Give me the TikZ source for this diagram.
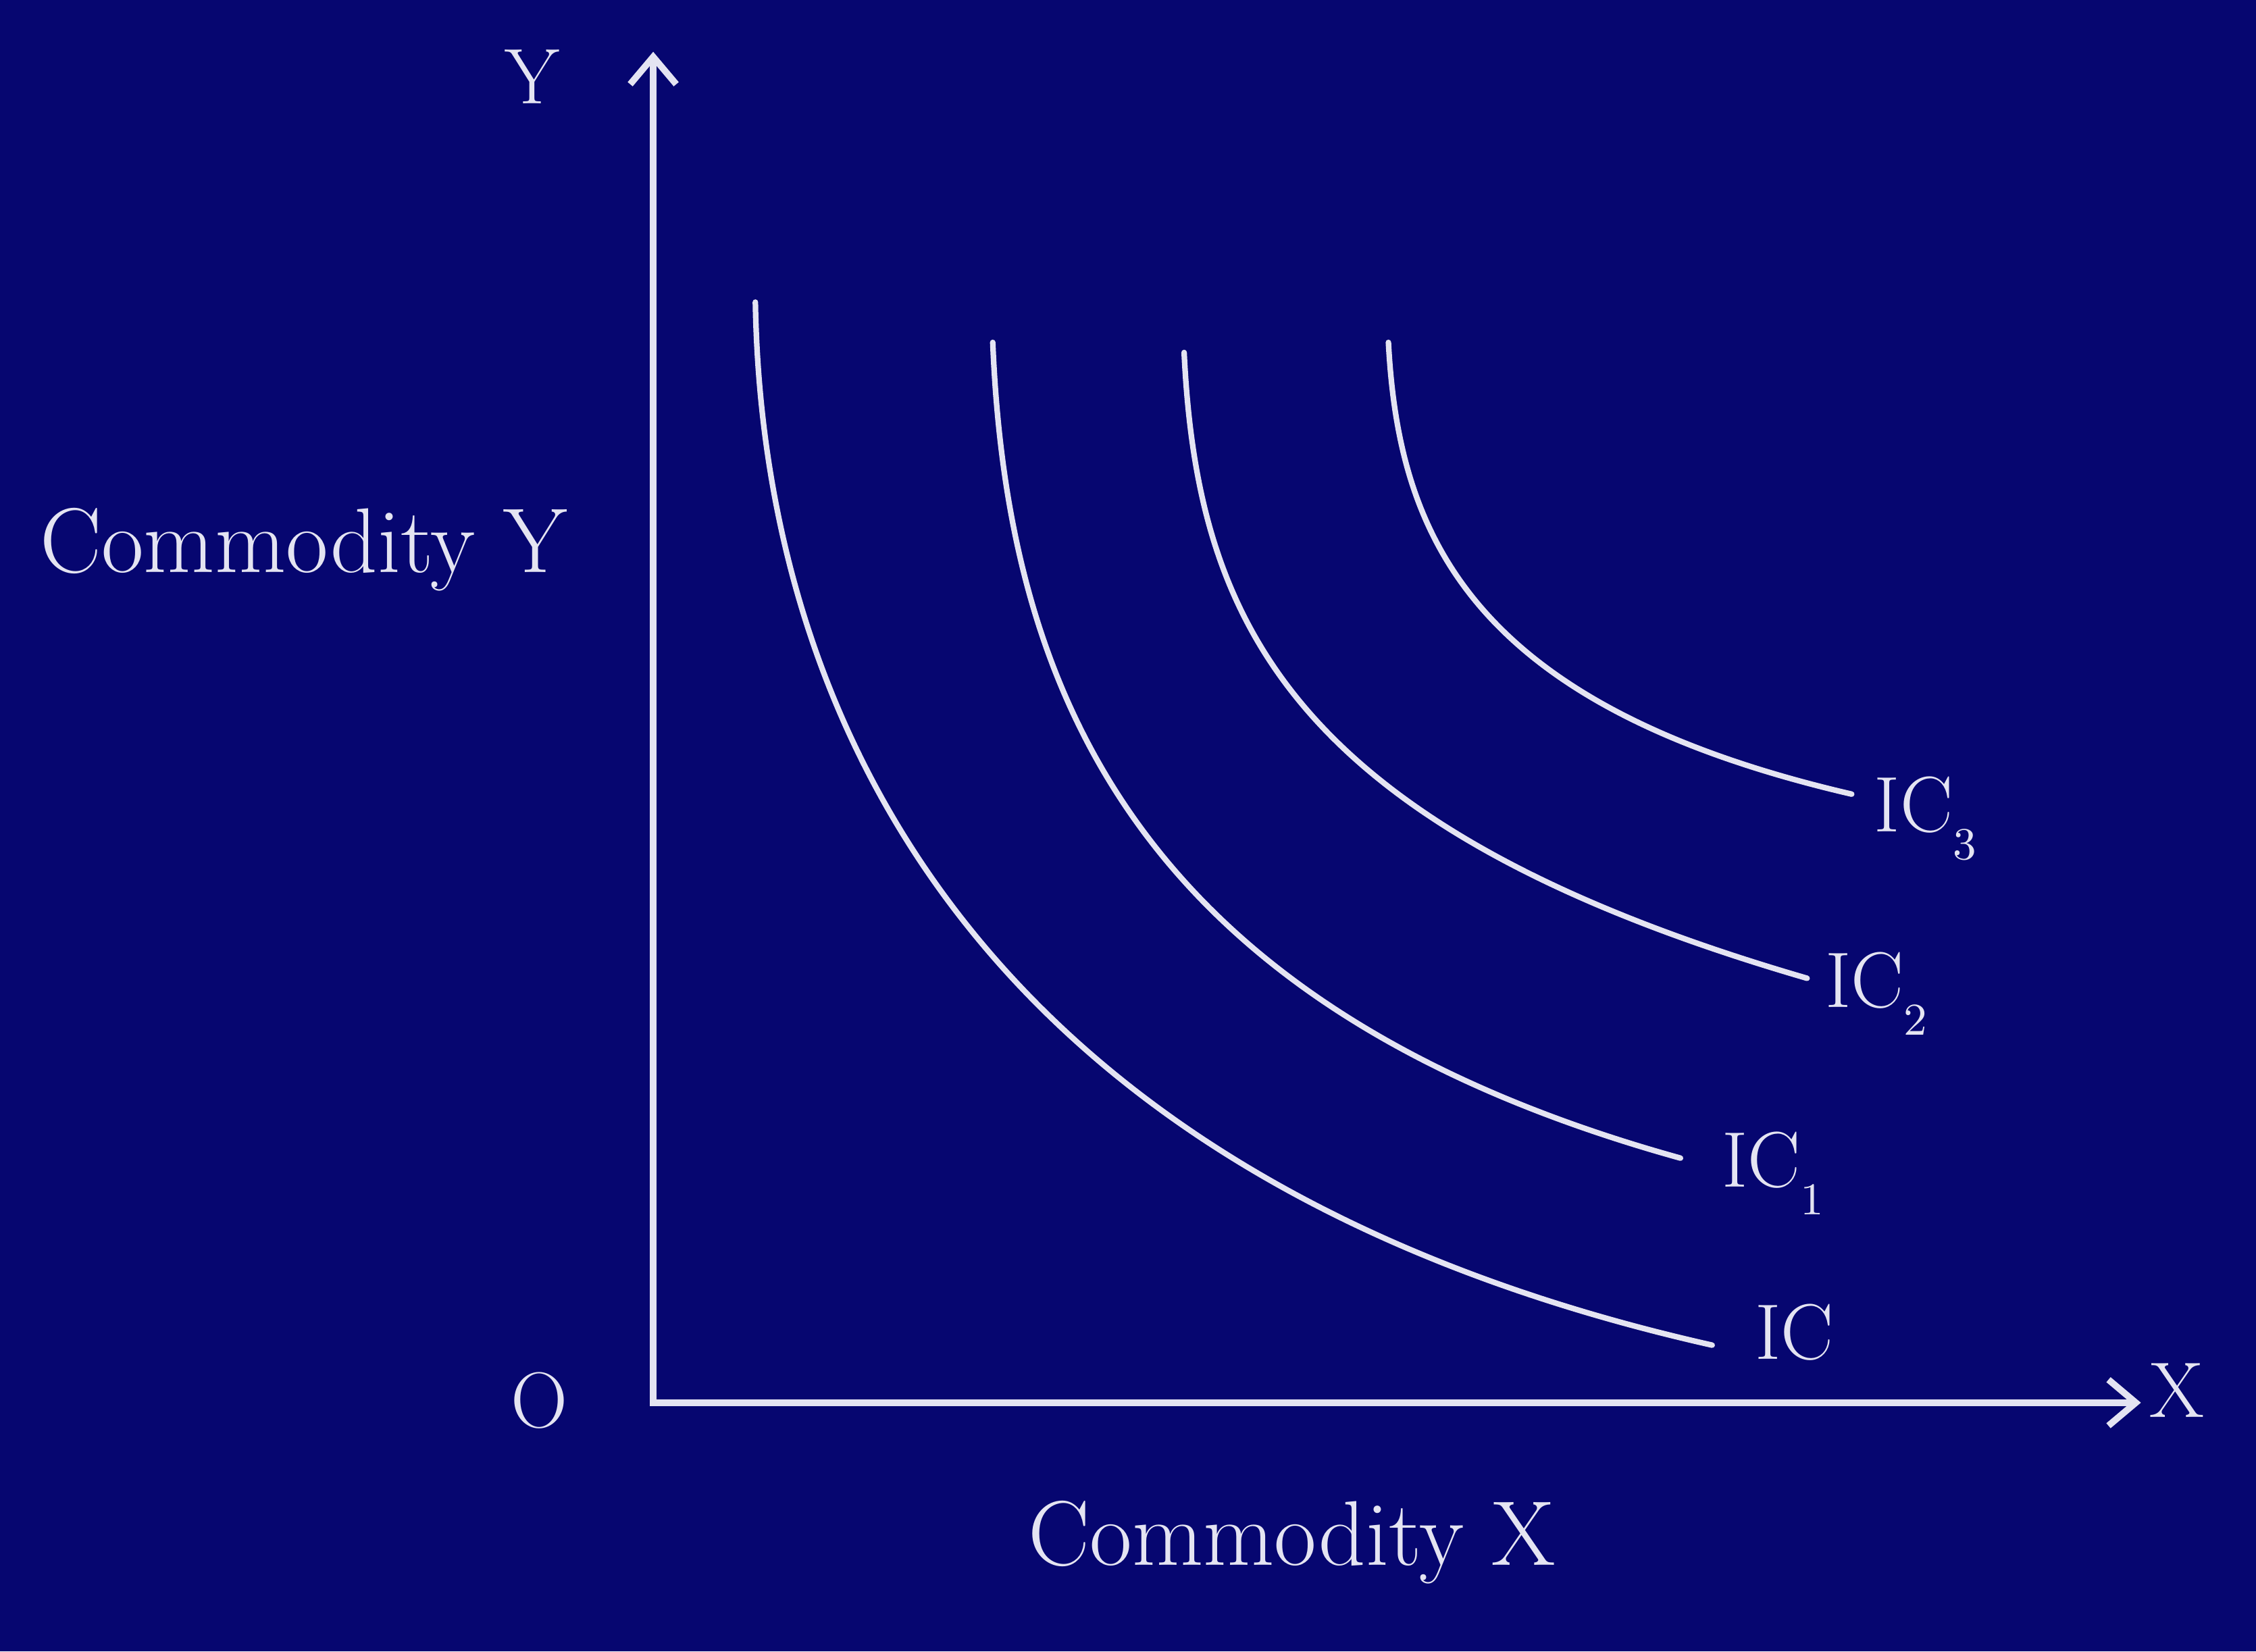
\documentclass[tikz,border=0pt]{standalone}
\usepackage{tikz}
\usetikzlibrary{arrows.meta}

\definecolor{board}{RGB}{6,6,112}
\definecolor{chalk}{RGB}{228,228,242}
\newcommand{\icsub}[1]{\raisebox{-5.5pt}{\fontsize{9}{10}\selectfont #1}}

\begin{document}
\begin{tikzpicture}[x=0.1mm, y=-0.1mm,
  axis/.style={chalk, line width=1.3pt,
    {Straight Barb[length=1.9mm,width=3.2mm]}-{Straight Barb[length=1.9mm,width=3.2mm]}},
  curve/.style={chalk, line width=1.1pt, line cap=round},
  lbl/.style={text=chalk, inner sep=0pt, anchor=base, font=\fontsize{15.6}{18}\selectfont},
  ttl/.style={text=chalk, inner sep=0pt, anchor=base, font=\fontsize{18.2}{21}\selectfont}]

\fill[board] (0,0) rectangle (1568,1148);
\useasboundingbox (0,0) rectangle (1568,1148);

% axes
\coordinate (o)    at (454, 975);
\coordinate (ytip) at (454, 36);
\coordinate (xtip) at (1488, 975);
\draw[axis] (ytip) -- (o) -- (xtip);

\node[lbl] (ylab) at (370, 72)  {Y};
\node[lbl] (xlab) at (1513, 985) {X};
\node[lbl] (olab) at (375, 992) {O};

\node[ttl] (ytitle) at (211, 398)  {Commodity Y};
\node[ttl] (xtitle) at (898, 1088) {Commodity X};

% indifference curves
\draw[curve] (525,210) .. controls (530,500) and (680,820) .. (1190,935);
\draw[curve] (690,238) .. controls (700,480) and (790,700) .. (1168,805);
\draw[curve] (823,245) .. controls (832,430) and (895,575) .. (1256,680);
\draw[curve] (965,238) .. controls (972,370) and (1020,490) .. (1287,552);

% curve labels
\node[lbl, anchor=base west] (ic0) at (1219, 945) {IC};
\node[lbl, anchor=base west] (ic1) at (1196, 825) {IC\icsub{1}};
\node[lbl, anchor=base west] (ic2) at (1268, 700) {IC\icsub{2}};
\node[lbl, anchor=base west] (ic3) at (1302, 578) {IC\icsub{3}};
\end{tikzpicture}
\end{document}
